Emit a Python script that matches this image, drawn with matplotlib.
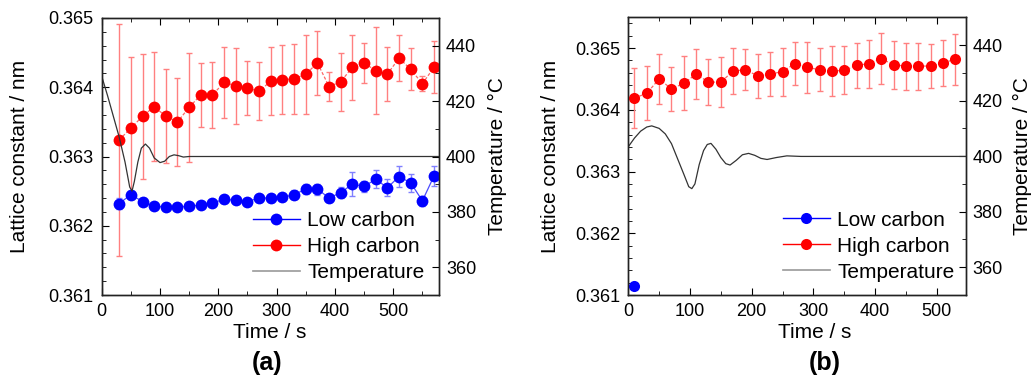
import numpy as np
import matplotlib.pyplot as plt
from matplotlib.lines import Line2D
from matplotlib.ticker import MultipleLocator, AutoMinorLocator

plt.rcParams['font.family'] = ['Liberation Sans', 'DejaVu Sans']

# Data: panel (a)
# ---------------
t_a = [30, 50, 70, 90, 110, 130, 150, 170, 190, 210, 230, 250, 270, 290,
       310, 330, 350, 370, 390, 410, 430, 450, 470, 490, 510, 530, 550, 570]
high_a = [0.36324, 0.36341, 0.36358, 0.36372, 0.36358, 0.36350, 0.36371,
          0.36389, 0.36389, 0.36407, 0.36402, 0.36399, 0.36394, 0.36409,
          0.36411, 0.36412, 0.36419, 0.36435, 0.36401, 0.36408, 0.36429,
          0.36435, 0.36424, 0.36419, 0.36442, 0.36426, 0.36405, 0.36429]
high_a_err = [0.00167, 0.00102, 0.00090, 0.00079, 0.00068, 0.00063, 0.00079,
              0.00046, 0.00048, 0.00051, 0.00055, 0.00039, 0.00042, 0.00049,
              0.00050, 0.00050, 0.00057, 0.00046, 0.00021, 0.00042, 0.00047,
              0.00029, 0.00063, 0.00039, 0.00033, 0.00030, 0.00011, 0.00038]
low_a = [0.36232, 0.36245, 0.36235, 0.36228, 0.36227, 0.36227, 0.36228,
         0.36230, 0.36233, 0.36238, 0.36237, 0.36235, 0.36240, 0.36240,
         0.36241, 0.36245, 0.36253, 0.36253, 0.36240, 0.36248, 0.36260,
         0.36257, 0.36267, 0.36255, 0.36271, 0.36262, 0.36236, 0.36272]
low_a_err = [0.00008, 0.00005, 0.00005, 0.00004, 0.00004, 0.00004, 0.00004,
             0.00004, 0.00004, 0.00005, 0.00005, 0.00005, 0.00005, 0.00005,
             0.00005, 0.00006, 0.00007, 0.00008, 0.00006, 0.00008, 0.00017,
             0.00008, 0.00013, 0.00012, 0.00015, 0.00013, 0.00007, 0.00015]
temp_t_a = [0, 10, 20, 30, 40, 48, 52, 56, 62, 68, 75, 82, 90, 100, 108,
            116, 124, 132, 140, 150, 580]
temp_a = [429, 422, 414.5, 407, 398, 389, 387.5, 391, 398, 403, 404.5, 403,
          399.5, 397.8, 398.3, 400, 400.6, 400.3, 399.8, 400, 400]

# Data: panel (b)
# ---------------
t_b = [10, 30, 50, 70, 90, 110, 130, 150, 170, 190, 210, 230, 250, 270,
       290, 310, 330, 350, 370, 390, 410, 430, 450, 470, 490, 510, 530]
high_b = [0.36419, 0.36427, 0.36450, 0.36434, 0.36443, 0.36458, 0.36445,
          0.36445, 0.36463, 0.36465, 0.36455, 0.36458, 0.36462, 0.36475,
          0.36469, 0.36465, 0.36463, 0.36464, 0.36472, 0.36475, 0.36483,
          0.36473, 0.36471, 0.36471, 0.36471, 0.36476, 0.36482]
high_b_err = [0.00049, 0.00044, 0.00041, 0.00036, 0.00044, 0.00040, 0.00037,
              0.00041, 0.00037, 0.00033, 0.00036, 0.00036, 0.00039, 0.00035,
              0.00041, 0.00035, 0.00040, 0.00039, 0.00036, 0.00039, 0.00041,
              0.00039, 0.00038, 0.00038, 0.00036, 0.00038, 0.00041]
t_low_b = [10]
low_b = [0.36115]
temp_t_b = [0, 10, 20, 30, 38, 50, 60, 70, 80, 90, 98, 103, 108, 115, 122,
            128, 134, 142, 150, 158, 165, 175, 185, 195, 205, 215, 225, 240,
            257, 280, 548]
temp_b = [403.4, 406.5, 409, 410.5, 410.9, 410, 408, 404.5, 399, 393.5, 389,
          388.3, 390, 397, 402, 404.2, 404.6, 402.5, 399.5, 397.3, 396.8,
          398.5, 400.5, 401, 400.3, 399.2, 398.8, 399.5, 400.1, 399.9, 399.9]

# Style
# -----
RED = "#ff0000"
BLUE = "#0000ff"
tick_fs = 13
label_fs = 15

fig = plt.figure(figsize=(10.36, 3.83), dpi=100)
W, H = 1036., 383.


def panel(box, xlim, ylim, tag, xlab_x, tag_x, ylab_l, ylab_r, leg_xy,
          t_hi, hi, hi_err, t_lo, lo, lo_err, t_temp, temp, ms):
    l, t, r, b = box
    ax = fig.add_axes([l / W, 1 - b / H, (r - l) / W, (b - t) / H])
    ax2 = ax.twinx()

    # high carbon
    ax.errorbar(t_hi, hi, yerr=hi_err, fmt="none", ecolor="#ff8080",
                elinewidth=1., capsize=2.5, capthick=1., zorder=2)
    ax.plot(t_hi, hi, color=RED, lw=0.9, ls=(0, (2.5, 1.5)), alpha=0.6,
            zorder=3)
    ax.plot(t_hi, hi, "o", color=RED, ms=ms, mew=0, zorder=4)

    # low carbon
    if lo_err is not None:
        ax.errorbar(t_lo, lo, yerr=lo_err, fmt="none", ecolor="#8080ff",
                    elinewidth=1., capsize=2.5, capthick=1., zorder=2)
    ax.plot(t_lo, lo, color=BLUE, lw=0.9, alpha=0.7, zorder=3)
    ax.plot(t_lo, lo, "o", color=BLUE, ms=ms, mew=0, zorder=4)

    # temperature
    ax2.plot(t_temp, temp, color="#333333", lw=0.9)

    ax.set_xlim(*xlim)
    ax.set_ylim(*ylim)
    ax2.set_ylim(350, 450)

    ax.xaxis.set_major_locator(MultipleLocator(100))
    ax.xaxis.set_minor_locator(AutoMinorLocator(2))
    ax.yaxis.set_major_locator(MultipleLocator(0.001))
    ax.yaxis.set_minor_locator(AutoMinorLocator(5))
    ax.yaxis.set_major_formatter(plt.FormatStrFormatter("%.3f"))
    ax2.yaxis.set_major_locator(MultipleLocator(20))
    ax2.yaxis.set_minor_locator(AutoMinorLocator(2))

    ax.tick_params(which="both", direction="in", top=True, right=False,
                   labelsize=tick_fs, pad=6)
    ax.tick_params(which="major", length=5)
    ax.tick_params(which="minor", length=3)
    ax2.tick_params(which="both", direction="in", labelsize=tick_fs, pad=5)
    ax2.tick_params(which="major", length=5)
    ax2.tick_params(which="minor", length=3)
    for a in (ax, ax2):
        for s in a.spines.values():
            s.set_linewidth(1.0)
            s.set_color("#222222")

    # labels
    fig.text(xlab_x / W, 1 - 333 / H, "Time / s", ha="center", va="center",
             fontsize=label_fs)
    fig.text(tag_x / W, 1 - 363 / H, tag, ha="center", va="center",
             fontsize=18, fontweight="bold")
    yc = 1 - 156 / H
    fig.text(ylab_l / W, yc, "Lattice constant / nm", ha="center",
             va="center", rotation=90, fontsize=label_fs)
    fig.text(ylab_r / W, yc, "Temperature / °C", ha="center", va="center",
             rotation=90, fontsize=label_fs)

    handles = [
        Line2D([], [], color=BLUE, lw=1, marker="o", ms=ms, mew=0),
        Line2D([], [], color=RED, lw=1, marker="o", ms=ms, mew=0),
        Line2D([], [], color="#999999", lw=1.2),
    ]
    ax2.legend(handles, ["Low carbon", "High carbon", "Temperature"],
               loc="upper left", bbox_to_anchor=leg_xy, frameon=False,
               fontsize=label_fs, borderpad=0, borderaxespad=0,
               handlelength=2.25, handletextpad=0.35, labelspacing=0.34)
    return ax, ax2


panel((101.7, 18, 439, 295), (0, 578.5), (0.361, 0.365), "(a)", 270, 267,
      20, 497, (0.4486, 0.304),
      t_a, high_a, high_a_err, t_a, low_a, low_a_err, temp_t_a, temp_a, 8.5)

panel((628.3, 17.3, 965.7, 295), (0, 547), (0.361, 0.3655), "(b)", 815, 825,
      550, 1022, (0.4585, 0.304),
      t_b, high_b, high_b_err, t_low_b, low_b, None, temp_t_b, temp_b, 8)

fig.savefig("out.png", dpi=100)
